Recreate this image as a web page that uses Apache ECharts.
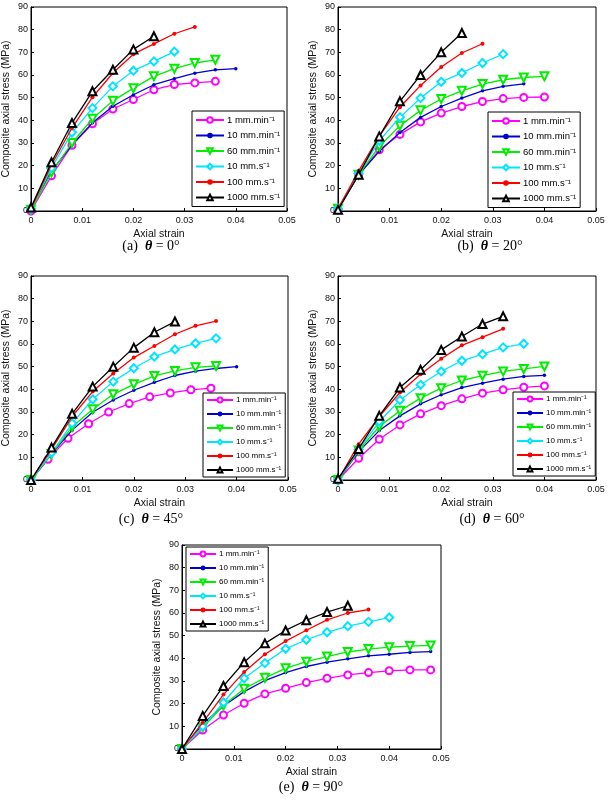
<!DOCTYPE html>
<html>
<head>
<meta charset="utf-8">
<script src="https://cdn.jsdelivr.net/npm/echarts@6/dist/echarts.min.js"></script>
<style>
  html, body { margin: 0; padding: 0; background: #fff; }
  #main { width: 609px; height: 810px; }
</style>
</head>
<body>
<div id="main"></div>
<script>
// strain sampling used by the tests (most curves)
const strain = [0, 0.004, 0.008, 0.012, 0.016, 0.02, 0.024, 0.028, 0.032, 0.036, 0.04, 0.044, 0.048];
// 1 mm/min curve of panel (c) was sampled a bit off the grid
const strainC1 = [0, 0.0033, 0.0072, 0.0112, 0.0151, 0.0191, 0.0231, 0.0271, 0.0311, 0.035];

const rates = ['1 mm.min⁻¹', '10 mm.min⁻¹', '60 mm.min⁻¹', '10 mm.s⁻¹', '100 mm.s⁻¹', '1000 mm.s⁻¹'];
const xTicks = [0, 0.01, 0.02, 0.03, 0.04, 0.05];
const yTicks = [0, 10, 20, 30, 40, 50, 60, 70, 80, 90];
const captions = [['(a)', '0'], ['(b)', '20'], ['(c)', '45'], ['(d)', '60'], ['(e)', '90']];

// (a) theta = 0
const a1 = [0, 15.5, 29, 38.5, 45, 49.2, 53.5, 55.8, 56.5, 57.2];
const a2 = [1, 17.5, 29.2, 38.9, 46.2, 51.3, 55.7, 58.4, 60.8, 62.3, 62.8];
const a3 = [0.5, 17, 30, 40.7, 48.6, 54.2, 59.4, 62.8, 65.3, 66.7];
const a4 = [1, 19, 34.6, 45.4, 55, 61.9, 66, 70.3];
const a5 = [1, 20.4, 36.6, 50.2, 60.9, 69.2, 73.7, 78.2, 81.2];
const a6 = [1.5, 21.5, 38.8, 52.8, 62.3, 71.3, 77.1];
// (b) theta = 20
const b1 = [0.5, 16, 27, 33.8, 39.3, 43.2, 46.1, 48.3, 49.6, 50.1, 50.3];
const b2 = [1, 16, 26.3, 34.6, 41.3, 46.1, 49.8, 53, 55, 56.1];
const b3 = [1, 16, 28.5, 37.6, 44.4, 49.4, 53, 56, 57.9, 58.9, 59.4];
const b4 = [1, 16.5, 31, 41.4, 49.8, 57, 60.9, 65.3, 69.2];
const b5 = [1, 17.7, 33, 45.8, 55.4, 63.5, 69.7, 73.8];
const b6 = [0.5, 16, 32.9, 48.4, 60, 70, 78.5];
// (c) theta = 45
const c1 = [0, 9.1, 18.4, 24.8, 30, 33.7, 36.7, 38.4, 39.8, 40.5];
const c2 = [0, 11.5, 22, 29.9, 35.3, 39.6, 43.1, 46.1, 48, 49.2, 50];
const c3 = [0, 11.5, 23.4, 31.2, 37.8, 42.2, 45.9, 48.1, 49.7, 50.3];
const c4 = [0, 12, 25, 35.6, 43.4, 49.3, 54.4, 57.6, 60.3, 62.5];
const c5 = [0, 13.5, 28, 39, 47, 54, 59.1, 64.3, 68, 70.1];
const c6 = [0, 14.3, 29.2, 41.2, 50, 58.4, 65.2, 69.9];
// (d) theta = 60
const d1 = [0, 9.6, 18, 24.3, 29.2, 32.8, 35.8, 38.3, 39.8, 40.9, 41.5];
const d2 = [0, 12.5, 21.8, 28.3, 33.6, 37.6, 40.8, 42.7, 44.5, 45.7, 46.2];
const d3 = [0, 13, 23.6, 30.5, 36.1, 40.5, 43.9, 46, 47.9, 49, 50.1];
const d4 = [0, 13.5, 25.8, 35.3, 42, 47.9, 52.6, 55.5, 58.5, 60.1];
const d5 = [0, 15.8, 28, 38.6, 46.7, 53.5, 59.4, 63, 66.7];
const d6 = [0.5, 13.7, 28.3, 40.8, 48.6, 57.4, 63.3, 68.8, 72.2];
// (e) theta = 90
const e1 = [0, 8.4, 15, 20.2, 24.3, 26.8, 29.3, 31.2, 32.7, 33.7, 34.5, 34.9, 34.9];
const e2 = [0, 11, 19, 25.3, 30.2, 33.7, 36.4, 38.3, 39.8, 41.1, 41.8, 42.6, 43];
const e3 = [0, 9.5, 19.2, 26.6, 31.4, 35.6, 38.5, 40.8, 42.8, 44.1, 44.9, 45.4, 45.7];
const e4 = [0, 9.9, 20.5, 31.2, 37.9, 44.2, 48.2, 51.5, 54.2, 56.1, 58];
const e5 = [0, 11.6, 24, 34, 41.8, 47.6, 52.4, 57, 60, 61.5];
const e6 = [0, 14.6, 27.8, 38.3, 46.6, 52.3, 56.8, 60.4, 63.2];

const panels = [
  [a1, a2, a3, a4, a5, a6],
  [b1, b2, b3, b4, b5, b6],
  [c1, c2, c3, c4, c5, c6],
  [d1, d2, d3, d4, d5, d6],
  [e1, e2, e3, e4, e5, e6]
];

// layout
const grids = [
  {left: 28, top: 7, width: 259, height: 204},
  {left: 338, top: 7, width: 258, height: 204},
  {left: 29, top: 276, width: 259, height: 204},
  {left: 338, top: 276, width: 258, height: 204},
  {left: 182, top: 545, width: 259, height: 204}
];
const legendPos = [
  {left: 192, top: 111, big: true},
  {left: 488, top: 112, big: true},
  {left: 203, top: 393, big: false},
  {left: 513, top: 392, big: false},
  {left: 186, top: 547, big: false}
];
const captionPos = [[151, 246], [490, 246], [151, 519], [492, 519], [311, 787]];

const styles = [
  {color: '#ff00ff', symbol: 'emptyCircle', size: 7},
  {color: '#0000d0', symbol: 'circle', size: 3.5},
  {color: '#00ee00', symbol: 'emptyTriangle', size: 8, rotate: 180},
  {color: '#00e5ff', symbol: 'emptyDiamond', size: 8},
  {color: '#ff0000', symbol: 'circle', size: 4},
  {color: '#000000', symbol: 'emptyTriangle', size: 8}
];

const font = 'Liberation Sans, Arial, sans-serif';

let xAxes = [], yAxes = [], series = [], legends = [], graphics = [];

grids.forEach(function (g, i) {
  xAxes.push({
    type: 'value', gridIndex: i, min: 0, max: 0.05, interval: 0.01,
    name: 'Axial strain', nameLocation: 'middle', nameGap: 18,
    nameTextStyle: {fontFamily: font, fontSize: 10.5, color: '#111'},
    axisLine: {onZero: false, lineStyle: {color: '#000', width: 1}},
    axisTick: {inside: true, length: 3, lineStyle: {color: '#000'}},
    axisLabel: {fontFamily: font, fontSize: 9, color: '#111', margin: 5,
      formatter: function (v) { return xTicks.indexOf(Math.round(v * 100) / 100) >= 0 ? String(Math.round(v * 100) / 100) : ''; }},
    splitLine: {show: false}
  });
  yAxes.push({
    type: 'value', gridIndex: i, min: 0, max: 90, interval: 10,
    name: 'Composite axial stress (MPa)', nameLocation: 'middle', nameGap: 19,
    nameTextStyle: {fontFamily: font, fontSize: 10.5, color: '#111'},
    axisLine: {lineStyle: {color: '#000', width: 1}},
    axisTick: {inside: true, length: 3, lineStyle: {color: '#000'}},
    axisLabel: {fontFamily: font, fontSize: 9, color: '#111', margin: 3},
    splitLine: {show: false}
  });

  panels[i].forEach(function (vals, k) {
    const xs = (i === 2 && k === 0) ? strainC1 : strain;
    const st = styles[k];
    series.push({
      name: rates[k], type: 'line', xAxisIndex: i, yAxisIndex: i,
      data: vals.map(function (v, j) { return [xs[j], v]; }),
      symbol: st.symbol, symbolSize: st.size, symbolRotate: st.rotate || 0,
      color: st.color,
      itemStyle: {color: st.color, borderWidth: 1.3},
      lineStyle: {color: st.color, width: 1.3},
      z: 2 + k
    });
  });

  const lp = legendPos[i];
  legends.push({
    left: lp.left, top: lp.top, orient: 'vertical',
    data: rates,
    backgroundColor: '#fff', borderColor: '#000', borderWidth: 1, borderRadius: 0,
    padding: lp.big ? [4, 4, 4, 3] : [3, 4, 3, 3],
    itemWidth: lp.big ? 28 : 26, itemHeight: lp.big ? 7 : 6,
    itemGap: lp.big ? 5.5 : 6,
    textStyle: {fontFamily: font, fontSize: lp.big ? 9.5 : 8, color: '#000', padding: [0, 0, 0, -2]},
    selectedMode: false
  });

  const cp = captionPos[i];
  graphics.push({
    type: 'text', x: cp[0], y: cp[1],
    style: {
      text: captions[i][0] + '  {t|θ} = ' + captions[i][1] + '°',
      font: '14px "Liberation Serif", serif', fill: '#000',
      align: 'center', verticalAlign: 'middle',
      rich: {t: {fontFamily: 'Liberation Serif', fontSize: 14, fontStyle: 'italic', fontWeight: 'bold'}}
    }
  });
});

const chart = echarts.init(document.getElementById('main'), null, {renderer: 'canvas'});
chart.setOption({
  animation: false,
  backgroundColor: '#fff',
  grid: grids.map(function (g) {
    return Object.assign({show: true, borderColor: '#000', borderWidth: 1, backgroundColor: '#fff'}, g);
  }),
  xAxis: xAxes,
  yAxis: yAxes,
  legend: legends,
  series: series,
  graphic: graphics
});
</script>
</body>
</html>
